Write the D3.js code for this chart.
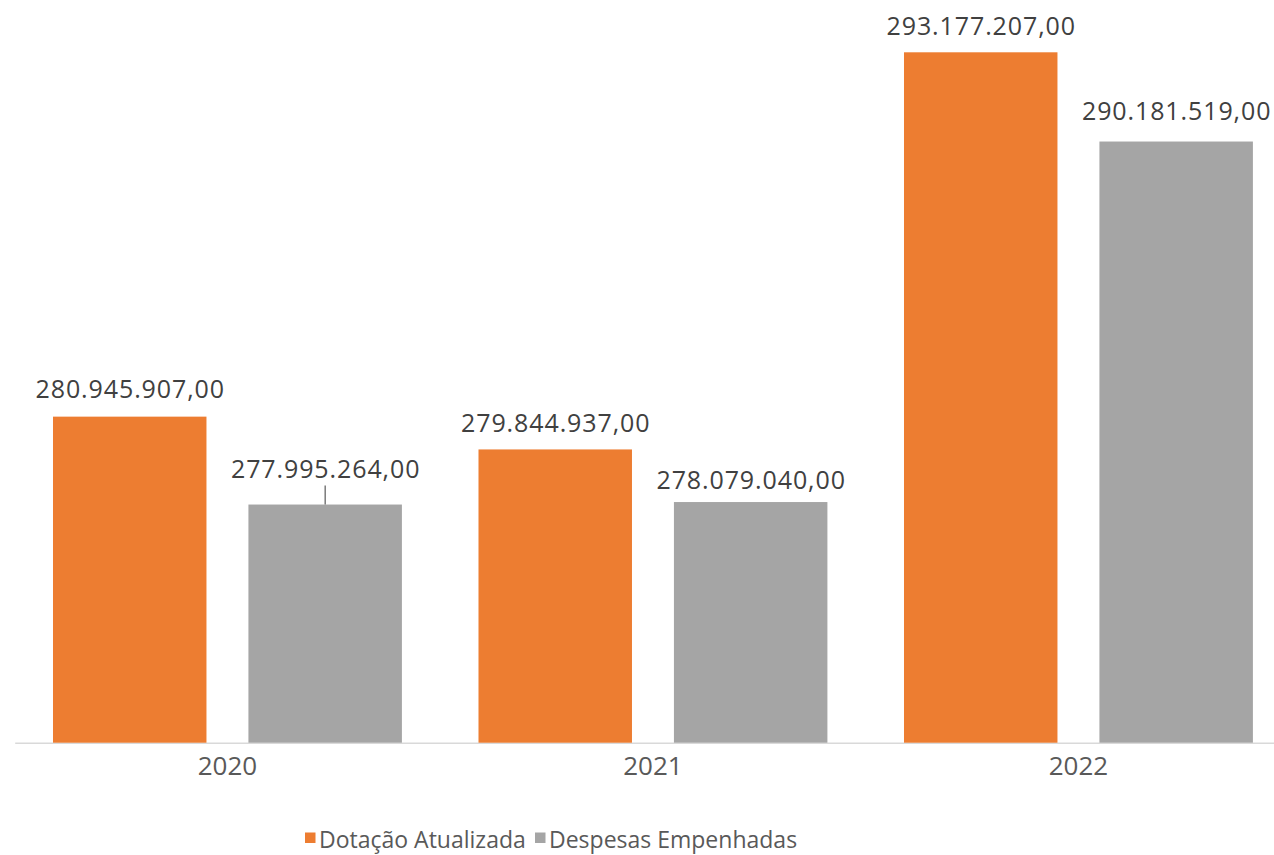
<!DOCTYPE html>
<html>
<head>
<meta charset="utf-8">
<script src="https://cdn.jsdelivr.net/npm/d3@7/dist/d3.min.js"></script>
<style>
  html, body { margin: 0; padding: 0; background: #ffffff; }
  svg { display: block; font-family: "Open Sans", "Noto Sans", sans-serif; }
</style>
</head>
<body>
<svg id="chart" width="1274" height="855"></svg>
<script>
// ---- data ----
const categories = ["2020", "2021", "2022"];
const seriesNames = ["Dotação Atualizada", "Despesas Empenhadas"];
const dotacao = [280945907.00, 279844937.00, 293177207.00];
const despesas = [277995264.00, 278079040.00, 290181519.00];
const yMin = 270000000;
const yMax = 295000000;

// ---- layout / style ----
const W = 1274, H = 855;
const colors = ["#ED7D31", "#A5A5A5"];
const baseY = 742.7;
// label gap above bar top (px) per [category][series]; special leader for one label
const labelGap = [[19, 27], [17, 13], [17, 22]];
const leader = [[false, true], [false, false], [false, false]];

const svg = d3.select("#chart");

const x0 = d3.scaleBand().domain(categories).range([14.7, 1291.2])
  .paddingInner(0.18).paddingOuter(0.09);
const x1 = d3.scaleBand().domain(seriesNames).range([0, x0.bandwidth()])
  .paddingInner(0.2147).paddingOuter(0);
const y = d3.scaleLinear().domain([yMin, yMax]).range([baseY, -2]);

const rows = categories.map((c, i) => ({
  cat: c, i,
  vals: [dotacao[i], despesas[i]].map((v, j) => ({ cat: c, i, j, name: seriesNames[j], v }))
}));

const fmt = v => {
  const s = d3.format(",.2f")(v); // 280,945,907.00
  return s.replace(/,/g, "#").replace(".", ",").replace(/#/g, ".");
};

// axis
const xAxis = d3.axisBottom(x0).tickSize(0).tickPadding(0);
const gx = svg.append("g").attr("transform", `translate(0,${baseY})`).call(xAxis);
gx.select(".domain").attr("stroke", "#d9d9d9").attr("stroke-width", 1.5);
gx.selectAll("text")
  .attr("y", 32).attr("dy", 0)
  .attr("fill", "#595959")
  .style("font-size", "26px")
  .style("font-family", "'Open Sans', sans-serif");

const groups = svg.append("g").selectAll("g").data(rows).join("g")
  .attr("transform", d => `translate(${x0(d.cat)},0)`);

groups.selectAll("rect").data(d => d.vals).join("rect")
  .attr("x", d => x1(d.name))
  .attr("y", d => y(d.v))
  .attr("width", x1.bandwidth())
  .attr("height", d => baseY - y(d.v))
  .attr("fill", d => colors[d.j]);

groups.selectAll("line.leader").data(d => d.vals.filter(v => leader[v.i][v.j])).join("line")
  .attr("class", "leader")
  .attr("x1", d => x1(d.name) + x1.bandwidth() / 2)
  .attr("x2", d => x1(d.name) + x1.bandwidth() / 2)
  .attr("y1", d => y(d.v) - labelGap[d.i][d.j] + 8)
  .attr("y2", d => y(d.v))
  .attr("stroke", "#595959").attr("stroke-width", 1.2);

groups.selectAll("text.val").data(d => d.vals).join("text")
  .attr("class", "val")
  .attr("x", d => x1(d.name) + x1.bandwidth() / 2 + 0.5)
  .attr("y", d => y(d.v) - labelGap[d.i][d.j])
  .attr("text-anchor", "middle")
  .attr("fill", "#404040")
  .style("font-size", "25px")
  .style("letter-spacing", "0.9px")
  .text(d => fmt(d.v));

// legend
const legend = svg.append("g").attr("transform", "translate(305,848)");
const legendX = [0, 230];
const li = legend.selectAll("g").data(seriesNames).join("g")
  .attr("transform", (d, i) => `translate(${legendX[i]},0)`);
li.append("rect").attr("x", 0).attr("y", -15.5).attr("width", 10.5).attr("height", 10.5)
  .attr("fill", (d, i) => colors[i]);
li.append("text").attr("x", 14).attr("y", 0)
  .attr("fill", "#595959")
  .style("font-size", "23px")
  .text(d => d);
</script>
</body>
</html>
